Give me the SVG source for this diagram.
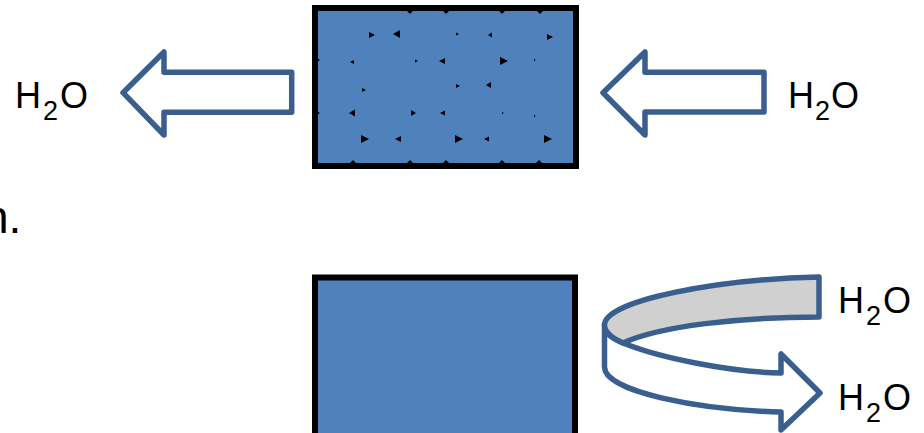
<svg xmlns="http://www.w3.org/2000/svg" width="924" height="433" viewBox="0 0 924 433">
<defs>
<style>
.box{fill:#4F81BD;stroke:#000;stroke-width:6}
.arr{fill:#fff;stroke:#3A5F8E;stroke-width:5.5;stroke-linejoin:round}
.band{fill:#D0D0D0;stroke:#3A5F8E;stroke-width:5.5;stroke-linejoin:round}
.lbl{font-family:"Liberation Sans",Arial,sans-serif;font-size:36px;fill:#000}
.sub{font-size:27px}
.tex{fill:#000}
</style>
</defs>
<rect width="924" height="433" fill="#fff"/>
<g id="top-block">
<rect class="box" x="315" y="8" width="261" height="158"/>
<path class="tex" d="M369,32 L375,35 L369,38 Z M400,30 L393,34 L400,38 Z M456,32.5 L459,34 L456,35.5 Z M492,32.5 L488,35 L492,37.5 Z M547,34 L553,37 L547,40 Z
M315,57 L320,60 L315,63 Z M354,60 L350,62 L354,64 Z M415,59.5 L418,61 L415,62.5 Z M445,58 L439,61 L445,64 Z M500,57 L508,61 L500,65 Z M534,59 L536,60 L534,61 Z
M362,88 L366,90 L362,92 Z M456,84 L460,86 L456,88 Z M491,82 L486,85 L491,88 Z
M315,110 L320,113 L315,116 Z M355,109.5 L349,113 L355,116.5 Z M411,110 L416,113 L411,116 Z M445,110.5 L440,113 L445,115.5 Z M502,112 L504,113 L502,114 Z M534,115 L536,116 L534,117 Z
M361,135 L369,139 L361,143 Z M401,136 L395,139 L401,142 Z M455,135 L463,139 L455,143 Z M489,136.5 L484,139 L489,141.5 Z M544,135 L552,139 L544,143 Z
M406,10 L414,10 L410,14 Z M442,10 L450,10 L446,14 Z M498,10 L506,10 L502,14 Z M536,10 L544,10 L540,14 Z
M349,164 L357,164 L353,160 Z M406,164 L414,164 L410,160 Z M442,164 L450,164 L446,160 Z M498,164 L506,164 L502,160 Z M535,164 L543,164 L539,160 Z"/>
</g>
<g id="bottom-block">
<rect class="box" x="315" y="277.5" width="260" height="170"/>
</g>
<g id="connectors">
<path id="arrow-left" class="arr" d="M123,92.7 L164,52 L164,72.3 L291.7,72.3 L291.7,112.3 L164,112.3 L164,135 Z"/>
<path id="arrow-right" class="arr" d="M603,92.7 L645,52 L645,72.3 L764,72.3 L764,112 L645,112 L645,135 Z"/>
<path id="curved-white" class="arr" d="M604.5,325 L604.5,367 C604.5,392 700,410 781,412 L781,430 L820,393 L781,354 L781,373 C730,372 660,358 623,343 C612,338 604.5,333 604.5,325 Z"/>
<path id="curved-gray" class="band" d="M819,277 L819,317 C740,317 660,326 623,343 C612,338 604.5,333 604.5,325 C604.5,300 720,279 819,277 Z"/>
</g>
<g id="labels">
<text class="lbl" y="108"><tspan x="15">H</tspan><tspan class="sub" x="43" y="120">2</tspan><tspan x="60" y="108">O</tspan></text>
<text class="lbl" y="108"><tspan x="788">H</tspan><tspan class="sub" x="815" y="120">2</tspan><tspan x="831" y="108">O</tspan></text>
<text class="lbl" y="313"><tspan x="838">H</tspan><tspan class="sub" x="866" y="325">2</tspan><tspan x="883" y="313">O</tspan></text>
<text class="lbl" y="410"><tspan x="838">H</tspan><tspan class="sub" x="866" y="422">2</tspan><tspan x="883" y="410">O</tspan></text>
<text class="lbl" x="-17" y="233" style="font-size:46px">n.</text>
</g>
</svg>
